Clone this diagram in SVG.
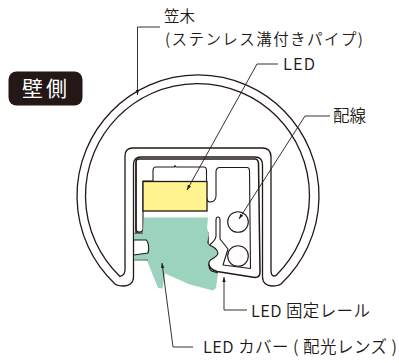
<svg xmlns="http://www.w3.org/2000/svg" width="399" height="363" viewBox="0 0 399 363">
<style>
.o{fill:none;stroke:#231815;stroke-width:1.1;stroke-linejoin:round}
.h{fill:#fff;stroke:#231815;stroke-width:1.3;stroke-linejoin:round}
.l{fill:none;stroke:#231815;stroke-width:.9;marker-end:url(#a)}
.t{font-family:"Noto Sans CJK JP","Noto Sans",sans-serif;font-size:16.500px;fill:#231815;font-weight:350}
.s{font-size:15.500px}
</style>
<defs><marker id="a" markerUnits="userSpaceOnUse" markerWidth="6" markerHeight="6" refX="5" refY="2.5" orient="auto"><path d="M0 .8L5 2.5L0 4.200Z" fill="#231815"/></marker></defs>
<g id="handrail">
<path class="h" d="M133.500 233V277C133.500 283 129 286 124 286C120 286 117 285.500 115 284A121 121 0 1 1 281 284C279 285.500 276 286 272 286C267 286 262.500 283 262.500 277V165C262.500 160 260 157 255 157H141C136 157 133.500 160 133.500 165Z"/>
<path class="h" d="M125 156C125 151 128 148 133 148H262C268 148 271 151 271 157V270C271 274 272.500 276 274 276C275.500 276 276 275.500 276 275.500A112 112 0 1 0 120 276.500C121.500 276 125 275 125 270Z"/>
</g>
<g id="rail">
<path class="h" style="stroke-width:1.5" d="M136 162C136 160 137 159 139 159H255C257 159 258 160 258.500 163L260 272C260 276 258 277.500 255 277.500L217 271.500C211 270 208 266 208 260V233L136 233Z"/>
<path class="o" d="M136 162V229C136 231 138 232 139.500 232C141.500 232 143 231 143 229V181H153V171C153 168.500 154 167 156 167H174.500L175 165.500L176 167H204C206 167 206.500 168.500 206.500 171V196C206.500 200 208 202 210 202C213 202 216 200 216 196V172C216 169 217.500 167.500 220 167.500H247C249 167.500 249.500 169 249.500 171L250.500 268.500L223 265L228 249L220 239V220C220 218 219.500 217 218 217C216.500 217 216 218 216 220V236C216 240 212 243 209.500 245"/>
<circle class="o" cx="238" cy="222" r="10.300"/>
<circle class="o" cx="238" cy="256" r="10.300"/>
</g>
<g id="led">
<rect x="143" y="181.500" width="64" height="29.500" fill="#fff48f" stroke="#231815" stroke-width="1.300"/>
</g>
<g id="lens">
<path fill="#9bd3bd" d="M144 217.500H208L207 228L209 234L207 243L209 245C213 246 218 250 218 253C218 256 214 258 210.500 260C208 262 208 268 211.500 271L218 273L216 288L213 290.500L188 284L186.500 283L165 273.500L162.500 288.500L158 288L150 268L147 260.500L134 260V255L147 253L149 246L147 240H134V234L143 232.500Z"/>
<path fill="none" stroke="#6b6b60" stroke-width="1" d="M134 233.500H143M134 260H148"/>
<path class="o" d="M134 240H146.500C148.500 243 149.500 249 148 253L134 255M209 245C213 246 218 250 218 253C218 256 214 258 210.500 260C208 262 208 268 211.500 271L218 273"/>
</g>
<g id="badge">
<rect x="8.500" y="71.500" width="74" height="34" rx="8" fill="#231815"/>
<text x="22" y="96" style="font-family:'Noto Sans CJK JP',sans-serif;font-size:21px;fill:#fff;letter-spacing:3px">壁側</text>
</g>
<g id="connectors">
<path class="l" d="M160 27H137.500V95"/>
<path class="l" d="M278 64H257L187 190"/>
<path class="l" d="M330 116H305L239 219"/>
<path class="l" d="M247 310H224V277"/>
<path class="l" d="M193 347H173L162 263"/>
</g>
<g id="labels">
<text class="t s" x="164" y="22">笠木</text>
<text class="t s" x="165" y="44.500" textLength="198" lengthAdjust="spacing">(ステンレス溝付きパイプ)</text>
<text class="t" x="283" y="70" textLength="32">LED</text>
<text class="t" x="333" y="122">配線</text>
<text class="t" x="251" y="317" textLength="119" lengthAdjust="spacing">LED 固定レール</text>
<text class="t" x="203" y="353" textLength="194" lengthAdjust="spacing">LED カバー ( 配光レンズ )</text>
</g>
</svg>
